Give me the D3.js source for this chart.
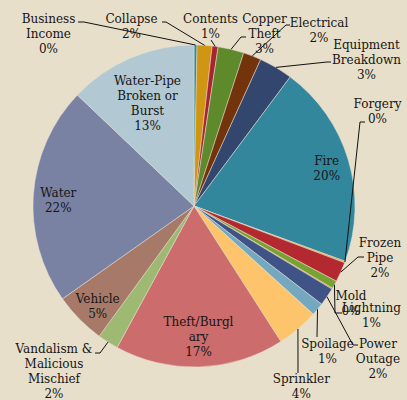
<!DOCTYPE html>
<html>
<head>
<meta charset="utf-8">
<script src="https://cdn.jsdelivr.net/npm/d3@7"></script>
<style>
  html, body { margin: 0; padding: 0; background: #e7dfca; }
  svg { display: block; }
</style>
</head>
<body>
<script>
const width = 407;
const height = 400;

// data (share of claims, %)
const categories = ["Business Income", "Collapse", "Contents", "Copper Theft", "Electrical",
  "Equipment Breakdown", "Fire", "Forgery", "Frozen Pipe", "Lightning", "Mold", "Power Outage",
  "Spoilage", "Sprinkler", "Theft/Burglary", "Vandalism & Malicious Mischief", "Vehicle",
  "Water", "Water-Pipe Broken or Burst"];
const values = [0.3, 1.5, 0.6, 2.6, 1.8, 3.4, 20.4, 0.15, 2.0, 0.8, 0.1, 1.8, 1.3, 4.2, 17.0, 2.1, 5.2, 21.9, 12.9];
const pctLabels = ["0%", "2%", "1%", "3%", "2%", "3%", "20%", "0%", "2%", "1%", "0%", "2%",
  "1%", "4%", "17%", "2%", "5%", "22%", "13%"];
const colors = ["#2f8aa0", "#d09512", "#a82530", "#5f8a2b", "#73340c", "#33466e", "#33879d",
  "#e8a33a", "#b4292f", "#78a232", "#d9801e", "#3f5387", "#73a8bf", "#fdc46c", "#cc6c6c",
  "#9eba72", "#a67968", "#7a82a3", "#b2c8d2"];

// label layout: text lines, centre x, first baseline y, leader points (label side)
const labelLayout = [
  {lines: ["Business", "Income"], x: 48.5, y: 22.7, leader: [[78, 22], [84, 22]]},
  {lines: ["Collapse"], x: 131.5, y: 22.7, leader: [[162, 22], [166, 22]]},
  {lines: ["Contents"], x: 210.5, y: 22.7, leader: [[211, 40]]},
  {lines: ["Copper", "Theft"], x: 264.5, y: 22.7, leader: [[246, 37], [241, 37]]},
  {lines: ["Electrical"], x: 319, y: 27, leader: [[290, 25], [286, 25]]},
  {lines: ["Equipment", "Breakdown"], x: 366.5, y: 48.5, leader: [[331, 62], [327, 62]]},
  {lines: ["Fire"], x: 326.7, y: 165, leader: null},
  {lines: ["Forgery"], x: 377.5, y: 108, leader: [[365, 122], [360, 122]]},
  {lines: ["Frozen", "Pipe"], x: 380, y: 246.5, leader: [[364, 257], [358, 257]]},
  {lines: ["Lightning"], x: 371.5, y: 311.5, leader: [[342, 313], [335, 313]]},
  {lines: ["Mold"], x: 351, y: 300, leader: null},
  {lines: ["Power", "Outage"], x: 378, y: 348.3, leader: [[358, 345], [353, 345]]},
  {lines: ["Spoilage"], x: 327.5, y: 348.3, leader: [[317, 337]]},
  {lines: ["Sprinkler"], x: 301.3, y: 383.3, leader: [[298, 373]]},
  {lines: ["Theft/Burgl", "ary"], x: 198.5, y: 326, leader: null},
  {lines: ["Vandalism &", "Malicious", "Mischief"], x: 54, y: 353.3, leader: [[95, 353], [100, 353]]},
  {lines: ["Vehicle"], x: 97.7, y: 303.3, leader: null},
  {lines: ["Water"], x: 58.3, y: 196.7, leader: null},
  {lines: ["Water-Pipe", "Broken or", "Burst"], x: 147.5, y: 85, leader: null}
];

const cx = 194, cy = 206, radius = 161;
const lineH = 15;

const svg = d3.select("body")
  .append("svg")
  .attr("width", width)
  .attr("height", height);

svg.append("rect")
  .attr("width", width)
  .attr("height", height)
  .attr("fill", "#e7dfca");

const data = categories.map((c, i) => ({name: c, value: values[i], pct: pctLabels[i], color: colors[i], layout: labelLayout[i]}));

const pie = d3.pie().sort(null).value(d => d.value);
const arcs = pie(data);

const arc = d3.arc().innerRadius(0).outerRadius(radius);
const edgeArc = d3.arc().innerRadius(radius).outerRadius(radius);

const g = svg.append("g").attr("transform", `translate(${cx},${cy})`);

g.selectAll("path.slice")
  .data(arcs)
  .enter().append("path")
    .attr("class", "slice")
    .attr("d", arc)
    .attr("fill", d => d.data.color)
    .attr("stroke", "#e6e1d4")
    .attr("stroke-width", 0.5);

// leader lines: from label elbow to the slice edge at mid angle
const line = d3.line();
svg.selectAll("path.leader")
  .data(arcs.filter(d => d.data.layout.leader))
  .enter().append("path")
    .attr("class", "leader")
    .attr("fill", "none")
    .attr("stroke", "#111")
    .attr("stroke-width", 1)
    .attr("d", d => {
      const p = edgeArc.centroid(d);
      return line(d.data.layout.leader.concat([[p[0] + cx, p[1] + cy]]));
    });

// labels
const labels = svg.selectAll("text.lbl")
  .data(data)
  .enter().append("text")
    .attr("class", "lbl")
    .attr("text-anchor", "middle")
    .attr("font-family", "'DejaVu Serif', Georgia, serif")
    .attr("font-size", "12px")
    .attr("fill", "#151515");

labels.each(function(d) {
  const t = d3.select(this);
  const lines = d.layout.lines.concat([d.pct]);
  lines.forEach((s, k) => {
    t.append("tspan")
      .attr("x", d.layout.x)
      .attr("y", d.layout.y + k * lineH)
      .text(s);
  });
});
</script>
</body>
</html>
